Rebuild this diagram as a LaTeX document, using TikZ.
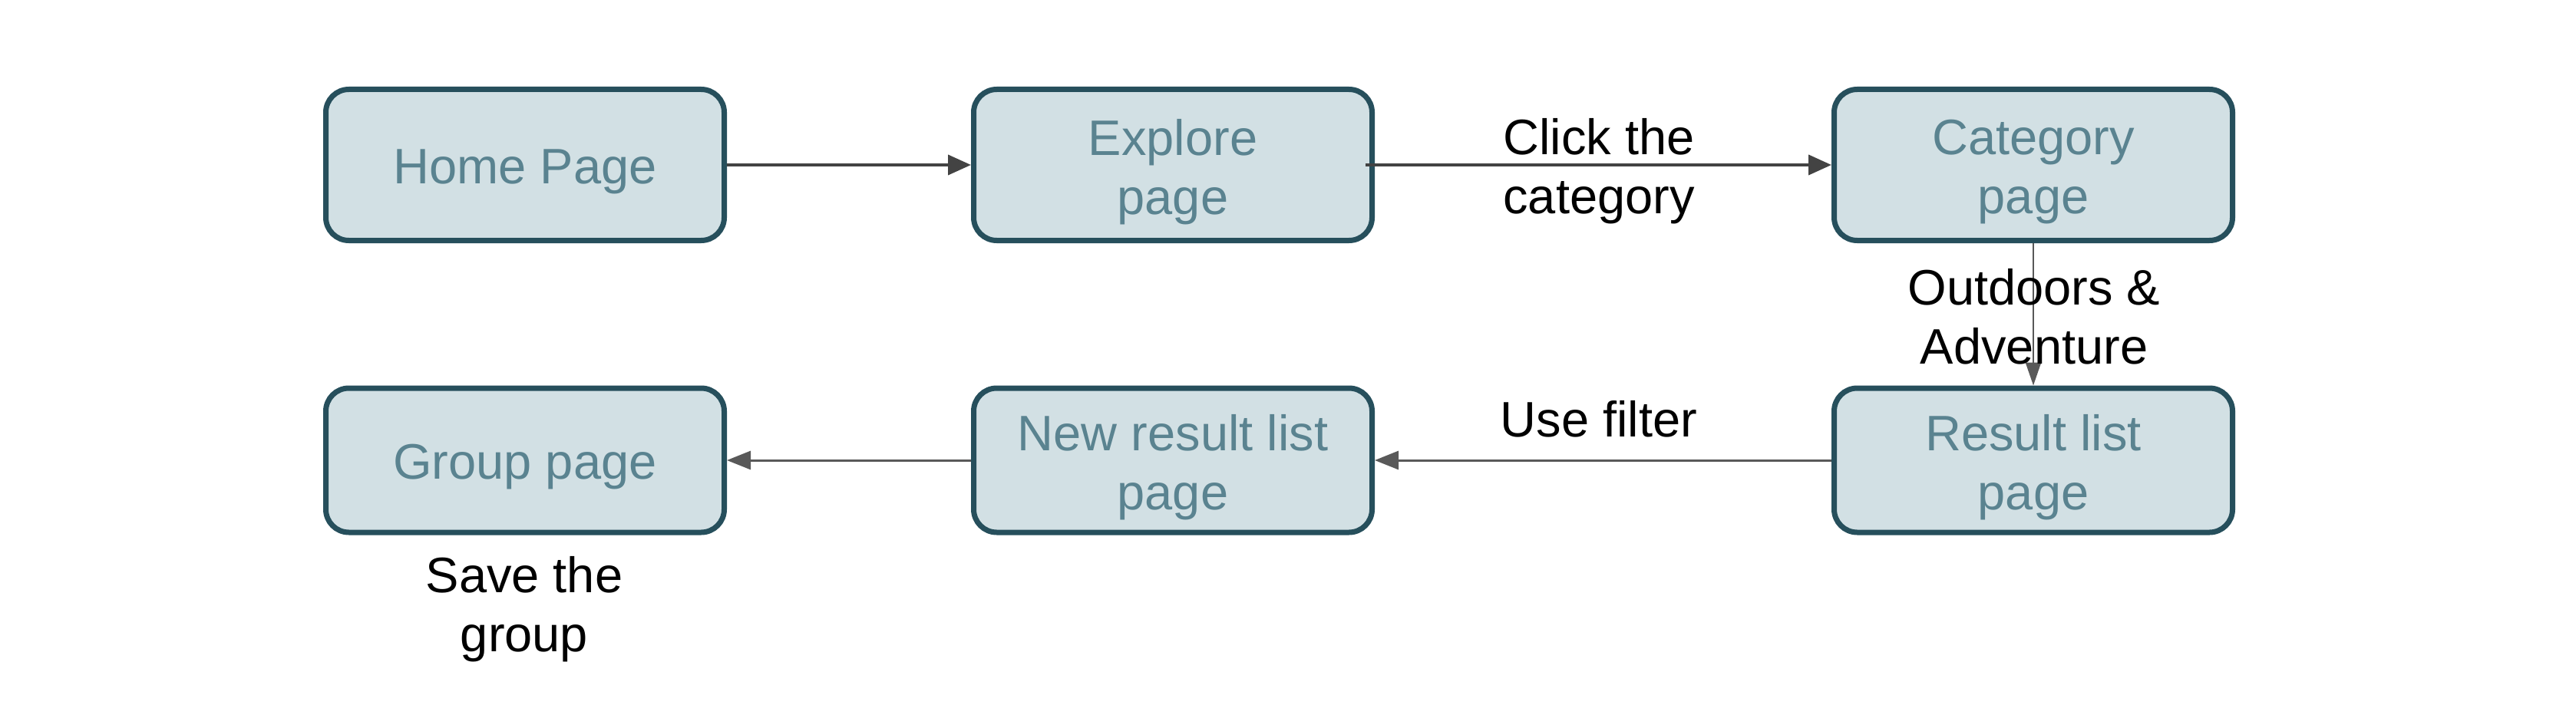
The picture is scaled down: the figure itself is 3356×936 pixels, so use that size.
\documentclass[tikz,border=0pt]{standalone}
\usepackage{fontspec}
\setmainfont{Liberation Sans}
\usetikzlibrary{arrows.meta}
\definecolor{boxfill}{HTML}{D2E0E4}
\definecolor{boxline}{HTML}{264F5C}
\definecolor{boxtext}{HTML}{5A8390}
\definecolor{arrdark}{HTML}{434343}
\definecolor{arrgray}{HTML}{595959}
\begin{document}
\begin{tikzpicture}[x=1pt,y=-1pt,
  pagebox/.style={draw=boxline, fill=boxfill, line width=7pt, rounded corners=30pt,
    minimum width=519pt, inner sep=0pt},
  boxlbl/.style={align=center, text=boxtext, inner sep=0pt, yshift=-9pt,
    font=\fontsize{65}{77}\selectfont},
  toprow/.style={minimum height=197pt},
  botrow/.style={minimum height=188pt},
  lbl/.style={align=center, text=black, inner sep=0pt, font=\fontsize{65}{77}\selectfont},
  arrA/.style={draw=arrdark, line width=4pt, -{Triangle[length=30pt,width=26pt]}},
  arrB/.style={draw=arrgray, line width=3pt, -{Triangle[length=31pt,width=24pt]}},
  arrC/.style={draw=arrgray, line width=2.5pt, -{Triangle[length=30pt,width=20pt]}}
]
\useasboundingbox[fill=white] (0,0) rectangle (3356,936);

\node[pagebox, toprow, label={[boxlbl]center:Home Page}] (home) at (684,215) {};
\node[pagebox, toprow, label={[boxlbl]center:Explore\\page}] (explore) at (1528,215) {};
\node[pagebox, toprow, label={[boxlbl]center:Category\\page}] (category) at (2649,215) {};
\node[pagebox, botrow, label={[boxlbl]center:Group page}] (group) at (684,600) {};
\node[pagebox, botrow, label={[boxlbl]center:New result list\\page}] (newres) at (1528,600) {};
\node[pagebox, botrow, label={[boxlbl]center:Result list\\page}] (result) at (2649,600) {};

\draw[arrA] (home.east) -- (explore.west);
\draw[arrA] ([xshift=-12pt]explore.east) -- (category.west);
\draw[arrC] (category.south) -- (result.north);
\draw[arrB] (result.west) -- (newres.east);
\draw[arrB] (newres.west) -- (group.east);

\node[lbl] (l1) at (2083,223) {Click the\\category};
\node[lbl] (l2) at (2650,413) {Outdoors \&\\Adventure};
\node[lbl] (l3) at (2083,546) {Use filter};
\node[lbl] (l4) at (683,794) {Save the\\group};
\end{tikzpicture}
\end{document}
